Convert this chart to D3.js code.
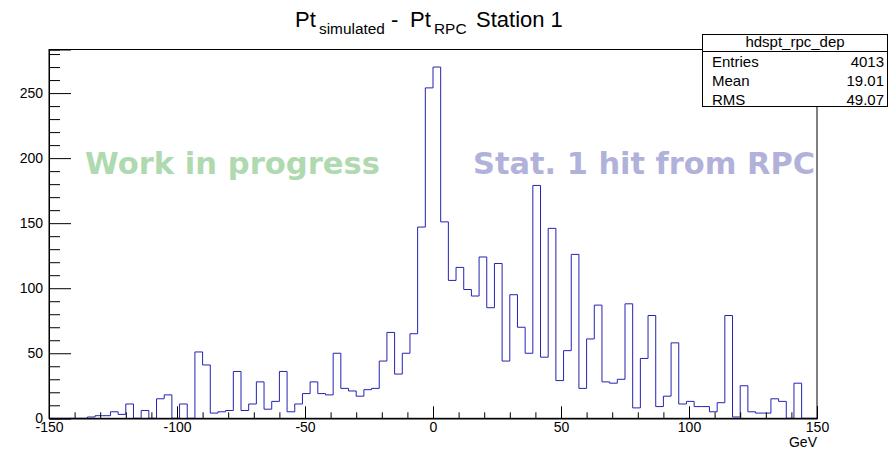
<!DOCTYPE html>
<html>
<head>
<meta charset="utf-8">
<script src="https://cdn.jsdelivr.net/npm/d3@7"></script>
<style>
  body { margin: 0; background: #fff; }
  svg { font-family: 'Liberation Sans', Arial, sans-serif; }
</style>
</head>
<body>
<div id="chart-container"></div>
<script>
// histogram hdspt_rpc_dep: 100 bins of 3 GeV from -150 to 150
const binStart = -150
const binWidth = 3
const counts = [
  0, 0, 0, 0, 0, 1, 2, 2, 5, 3,
  11, 0, 6, 0, 15, 18, 0, 11, 0, 51,
  41, 4, 5, 6, 36, 6, 11, 28, 7, 13,
  36, 5, 11, 19, 28, 19, 18, 50, 23, 21,
  17, 22, 23, 44, 66, 34, 50, 65, 147, 254,
  270, 151, 106, 116, 99, 94, 124, 85, 119, 44,
  95, 70, 50, 179, 47, 146, 29, 52, 126, 23,
  61, 87, 28, 27, 30, 88, 8, 46, 79, 9,
  17, 58, 11, 13, 9, 9, 5, 12, 79, 1,
  25, 5, 4, 4, 15, 13, 0, 27, 0, 0,
]
const xMajorTicks = [-150, -100, -50, 0, 50, 100, 150]
const yMajorTicks = [0, 50, 100, 150, 200, 250]
const statsName = 'hdspt_rpc_dep'
const statsRows = [
  ['Entries', '4013'],
  ['Mean', '19.01'],
  ['RMS', '49.07'],
]

const width = 888
const height = 450
const frame = { left: 49, right: 817, top: 49.5, bottom: 418.3 }
const labelFont = "'Liberation Sans', Arial, sans-serif"
const markFont = "'DejaVu Sans', sans-serif"

const svg = d3
  .select('#chart-container')
  .append('svg')
  .attr('width', width)
  .attr('height', height)
  .style('background', '#fff')

const x = d3.scaleLinear().domain([-150, 150]).range([frame.left, frame.right])
const y = d3
  .scaleLinear()
  .domain([0, d3.max(counts) * 1.05])
  .range([frame.bottom, frame.top])

// watermark texts
svg
  .append('text')
  .attr('x', 85)
  .attr('y', 174)
  .attr('font-size', 31)
  .attr('font-weight', 'bold')
  .style('font-family', markFont)
  .attr('fill', '#afd9af')
  .attr('textLength', 295)
  .attr('lengthAdjust', 'spacingAndGlyphs')
  .text('Work in progress')

svg
  .append('text')
  .attr('x', 473)
  .attr('y', 174)
  .attr('font-size', 31)
  .attr('font-weight', 'bold')
  .style('font-family', markFont)
  .attr('fill', '#b1b1da')
  .attr('textLength', 342)
  .attr('lengthAdjust', 'spacingAndGlyphs')
  .text('Stat. 1 hit from RPC')

// histogram outline
const pts = [[binStart, 0]]
counts.forEach((c, i) => pts.push([binStart + i * binWidth, c]))
pts.push([binStart + counts.length * binWidth, counts[counts.length - 1]])
pts.push([binStart + counts.length * binWidth, 0])

svg
  .append('path')
  .attr(
    'd',
    d3
      .line()
      .x(d => x(d[0]))
      .y(d => y(d[1]))
      .curve(d3.curveStepAfter)(pts),
  )
  .attr('fill', 'none')
  .attr('stroke', '#2323b4')
  .attr('stroke-width', 1)

// frame
svg
  .append('rect')
  .attr('x', frame.left)
  .attr('y', frame.top)
  .attr('width', frame.right - frame.left)
  .attr('height', frame.bottom - frame.top)
  .attr('fill', 'none')
  .attr('stroke', '#000')
  .attr('stroke-width', 1)

const fmt = d => String(d)

// y axis
const yAxisG = svg.append('g').attr('transform', `translate(${frame.left},0)`)
yAxisG
  .append('g')
  .call(
    d3
      .axisLeft(y)
      .tickValues(d3.range(0, 281, 10).filter(v => v % 50 !== 0))
      .tickSize(-11)
      .tickFormat(''),
  )
yAxisG
  .append('g')
  .call(
    d3
      .axisLeft(y)
      .tickValues(yMajorTicks)
      .tickSize(-22)
      .tickPadding(6)
      .tickFormat(fmt),
  )
yAxisG.selectAll('.domain').attr('stroke', '#000')
yAxisG
  .selectAll('text')
  .attr('font-size', 14)
  .attr('fill', '#000')
  .attr('font-family', labelFont)

// x axis
const xAxisG = svg
  .append('g')
  .attr('transform', `translate(0,${frame.bottom})`)
xAxisG
  .append('g')
  .call(
    d3
      .axisBottom(x)
      .tickValues(d3.range(-140, 150, 10).filter(v => v % 50 !== 0))
      .tickSize(-6)
      .tickFormat(''),
  )
xAxisG
  .append('g')
  .call(
    d3
      .axisBottom(x)
      .tickValues(xMajorTicks)
      .tickSize(-12)
      .tickPadding(4)
      .tickFormat(fmt),
  )
xAxisG.selectAll('.domain').attr('stroke', '#000')
xAxisG
  .selectAll('text')
  .attr('font-size', 14)
  .attr('fill', '#000')
  .attr('font-family', labelFont)

svg
  .append('text')
  .attr('x', frame.right)
  .attr('y', 447)
  .attr('text-anchor', 'end')
  .attr('font-size', 14)
  .text('GeV')

// title
const title = svg.append('g').attr('fill', '#000')
const titleParts = [
  { t: 'Pt', x: 295, y: 27, s: 22 },
  { t: 'simulated', x: 319, y: 34, s: 15.4 },
  { t: '-', x: 391, y: 27, s: 22 },
  { t: 'Pt', x: 410, y: 27, s: 22 },
  { t: 'RPC', x: 434, y: 34, s: 15.4 },
  { t: 'Station 1', x: 476, y: 27, s: 22 },
]
title
  .selectAll('text')
  .data(titleParts)
  .join('text')
  .attr('x', d => d.x)
  .attr('y', d => d.y)
  .attr('font-size', d => d.s)
  .text(d => d.t)

// stats box
const stats = svg.append('g')
stats
  .append('rect')
  .attr('x', 702.5)
  .attr('y', 34.5)
  .attr('width', 185)
  .attr('height', 72)
  .attr('fill', '#fff')
  .attr('stroke', '#000')
stats
  .append('line')
  .attr('x1', 702.5)
  .attr('x2', 887.5)
  .attr('y1', 51.5)
  .attr('y2', 51.5)
  .attr('stroke', '#000')
stats
  .append('text')
  .attr('x', 795)
  .attr('y', 47)
  .attr('text-anchor', 'middle')
  .attr('font-size', 15)
  .text(statsName)
const rowY = [67, 86, 105]
statsRows.forEach((r, i) => {
  stats
    .append('text')
    .attr('x', 712)
    .attr('y', rowY[i])
    .attr('font-size', 15)
    .text(r[0])
  stats
    .append('text')
    .attr('x', 884)
    .attr('y', rowY[i])
    .attr('text-anchor', 'end')
    .attr('font-size', 15)
    .text(r[1])
})
</script>
</body>
</html>
